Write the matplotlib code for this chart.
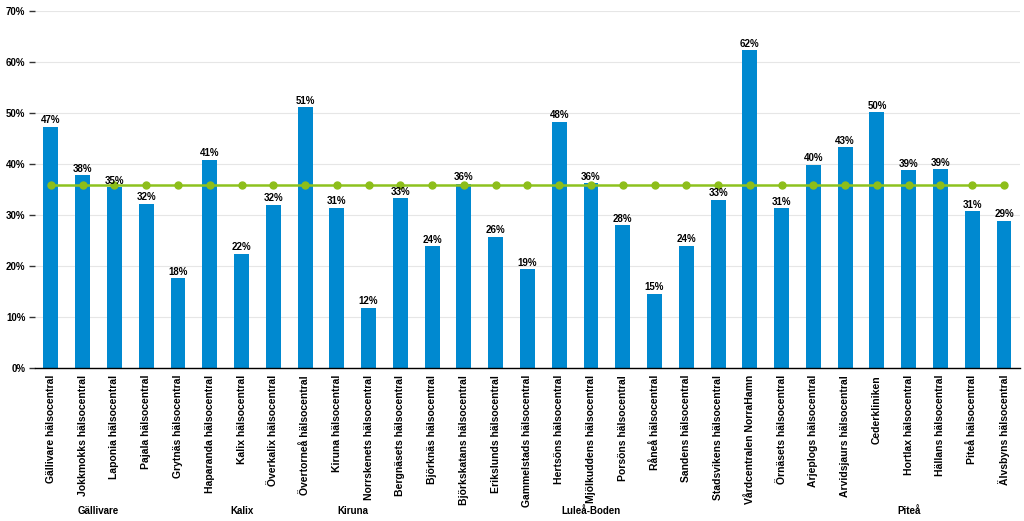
import matplotlib
matplotlib.use("Agg")
import matplotlib.pyplot as plt
from matplotlib.ticker import FuncFormatter, MultipleLocator
import matplotlib.transforms as mtransforms

plt.rcParams['font.family'] = ['Liberation Sans', 'DejaVu Sans']

categories = [
    "Gällivare hälsocentral", "Jokkmokks hälsocentral", "Laponia hälsocentral",
    "Pajala hälsocentral", "Grytnäs hälsocentral", "Haparanda hälsocentral",
    "Kalix hälsocentral", "Överkalix hälsocentral", "Övertorneå hälsocentral",
    "Kiruna hälsocentral", "Norrskenets hälsocentral", "Bergnäsets hälsocentral",
    "Björknäs hälsocentral", "Björkskatans hälsocentral", "Erikslunds hälsocentral",
    "Gammelstads hälsocentral", "Hertsöns hälsocentral", "Mjölkuddens hälsocentral",
    "Porsöns hälsocentral", "Råneå hälsocentral", "Sandens hälsocentral",
    "Stadsvikens hälsocentral", "Vårdcentralen NorraHamn", "Örnäsets hälsocentral",
    "Arjeplogs hälsocentral", "Arvidsjaurs hälsocentral", "Cederkliniken",
    "Hortlax hälsocentral", "Hällans hälsocentral", "Piteå hälsocentral",
    "Älvsbyns hälsocentral",
]
values = [47.3, 37.8, 35.4, 32.2, 17.6, 40.8, 22.4, 32.0, 51.1, 31.4, 11.8,
          33.3, 23.9, 36.1, 25.7, 19.4, 48.3, 36.2, 28.0, 14.6, 24.0, 33.0,
          62.3, 31.3, 39.8, 43.3, 50.1, 38.8, 39.0, 30.7, 28.9]
average = [35.9] * len(categories)
groups = ["Gällivare", "Kalix", "Kiruna", "Luleå-Boden", "Piteå"]
group_sizes = [4, 5, 2, 13, 7]

fig = plt.figure(figsize=(10.24, 5.21), dpi=100)
ax = fig.add_axes([0.0342, 0.2937, 0.9618, 0.6853])

x = list(range(len(categories)))
vals = [v / 100 for v in values]
avg = [v / 100 for v in average]

ax.bar(x, vals, width=0.47, color='#0089D0', zorder=2)
ax.plot(x, avg, color='#8DC21F', lw=1.8, marker='o', markersize=5,
        markerfacecolor='#8DBE1A', markeredgecolor='#8DBE1A', zorder=3)

for xi, v, raw in zip(x, vals, values):
    ax.text(xi, v + 0.003, f"{round(raw):.0f}%", ha='center', va='bottom',
            fontsize=7, fontweight='bold', color='black', zorder=4)

ax.set_xlim(-0.5, len(categories) - 0.5)
ax.set_ylim(0, 0.70)
ax.yaxis.set_major_locator(MultipleLocator(0.10))
ax.yaxis.set_major_formatter(FuncFormatter(lambda v, p: f"{v*100:.0f}%"))
ax.grid(axis='y', color='#E6E6E6', lw=0.8, zorder=0)
ax.set_axisbelow(True)

for s in ['top', 'right', 'left']:
    ax.spines[s].set_visible(False)
ax.spines['bottom'].set_color('black')
ax.spines['bottom'].set_linewidth(1.0)
ax.spines['bottom'].set_zorder(5)

ax.tick_params(axis='y', length=4, width=1, color='#333333', pad=3,
               labelsize=7)
for lab in ax.get_yticklabels():
    lab.set_fontweight('bold')
ax.set_xticks(x)
ax.set_xticklabels(categories, rotation=90, fontsize=7.5, fontweight='bold')
ax.tick_params(axis='x', length=0, pad=5)

trans = mtransforms.blended_transform_factory(ax.transData, fig.transFigure)
start = 0
for g, n in zip(groups, group_sizes):
    center = start + (n - 1) / 2
    ax.text(center, 0.02, g, transform=trans, ha='center', va='center',
            fontsize=7, fontweight='bold')
    start += n

fig.savefig("out.png", dpi=100)
